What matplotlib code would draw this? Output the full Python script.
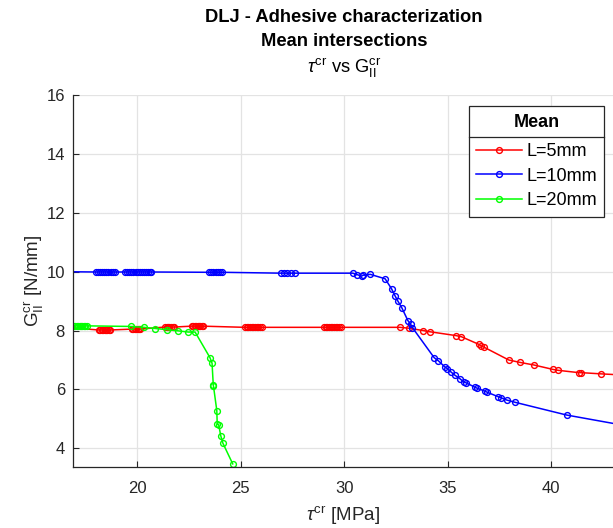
import matplotlib
matplotlib.use("Agg")
import matplotlib.pyplot as plt
from matplotlib.lines import Line2D

plt.rcParams['font.family'] = ['Liberation Sans', 'DejaVu Sans']
plt.rcParams['mathtext.fontset'] = 'custom'
plt.rcParams['mathtext.rm'] = 'Liberation Sans'
plt.rcParams['mathtext.it'] = 'Liberation Sans:italic'
plt.rcParams['mathtext.bf'] = 'Liberation Sans:bold'

# ---- data: tau^cr [MPa] vs G_II^cr [N/mm] for each overlap length ----
tau_5 = [16.70,
         18.13, 18.20, 18.27, 18.34, 18.41, 18.48, 18.55, 18.62, 18.69,
         19.73, 19.80, 19.87, 19.94, 20.01, 20.07, 20.13,
         21.34, 21.41, 21.48, 21.55, 21.62, 21.70, 21.78,
         22.63, 22.70, 22.77, 22.84, 22.91, 22.98, 23.05, 23.10, 23.16,
         25.20, 25.28, 25.36, 25.44, 25.52, 25.60, 25.68, 25.76, 25.84, 25.92, 26.04,
         29.03, 29.11, 29.19, 29.27, 29.35, 29.43, 29.51, 29.59, 29.67, 29.75, 29.87,
         32.69, 33.13, 33.82, 34.14, 35.40, 35.67, 36.52, 36.64, 36.75,
         37.96, 38.49, 39.18, 40.10, 40.34, 41.35, 41.47, 42.40, 44.00]
G_5 = [8.10,
       8.02, 8.02, 8.02, 8.02, 8.02, 8.02, 8.02, 8.02, 8.02,
       8.05, 8.05, 8.05, 8.05, 8.05, 8.05, 8.05,
       8.12, 8.12, 8.12, 8.12, 8.12, 8.12, 8.12,
       8.15, 8.15, 8.15, 8.15, 8.15, 8.15, 8.15, 8.15, 8.15,
       8.11, 8.11, 8.11, 8.11, 8.11, 8.11, 8.11, 8.11, 8.11, 8.11, 8.11,
       8.11, 8.11, 8.11, 8.11, 8.11, 8.11, 8.11, 8.11, 8.11, 8.11, 8.11,
       8.11, 8.08, 8.00, 7.96, 7.83, 7.79, 7.53, 7.47, 7.44,
       7.00, 6.92, 6.83, 6.68, 6.65, 6.57, 6.57, 6.53, 6.47]

tau_10 = [16.50,
          18.00, 18.10, 18.20, 18.30, 18.40, 18.50, 18.60, 18.70, 18.80, 18.90,
          19.41, 19.51, 19.61, 19.71, 19.81, 19.91, 20.01, 20.11, 20.21, 20.31, 20.41, 20.51, 20.60, 20.66,
          23.48, 23.58, 23.68, 23.78, 23.88, 23.98, 24.08,
          26.95, 27.10, 27.25, 27.45, 27.60,
          30.41, 30.63, 30.84, 30.92, 31.26, 31.98, 32.29, 32.46, 32.59, 32.79,
          33.08, 33.21, 33.30, 34.35, 34.56, 34.86, 34.98, 35.17, 35.36, 35.59,
          35.78, 35.88, 36.31, 36.40, 36.81, 36.93, 37.46, 37.57, 37.86, 38.28,
          40.76, 44.00]
G_10 = [10.00,
        9.99, 9.99, 9.99, 9.99, 9.99, 9.99, 9.99, 9.99, 9.99, 9.99,
        9.99, 9.99, 9.99, 9.99, 9.99, 9.99, 9.99, 9.99, 9.99, 9.99, 9.99, 9.99, 9.99, 9.99,
        9.98, 9.98, 9.98, 9.98, 9.98, 9.98, 9.98,
        9.95, 9.95, 9.95, 9.95, 9.95,
        9.95, 9.90, 9.85, 9.88, 9.91, 9.76, 9.42, 9.18, 9.01, 8.77,
        8.34, 8.22, 8.10, 7.08, 6.97, 6.77, 6.71, 6.59, 6.48, 6.37,
        6.25, 6.23, 6.08, 6.05, 5.94, 5.90, 5.75, 5.72, 5.64, 5.56,
        5.13, 4.72]

tau_20 = [16.92, 16.99, 17.06, 17.13, 17.20, 17.27, 17.34, 17.41, 17.48, 17.55,
          19.68, 20.32, 20.87, 21.45, 21.98, 22.46, 22.79,
          23.51, 23.61, 23.67, 23.68, 23.84, 23.86, 23.93, 24.03, 24.13, 24.61]
G_20 = [8.16, 8.16, 8.16, 8.16, 8.16, 8.16, 8.16, 8.16, 8.16, 8.16,
        8.14, 8.11, 8.07, 8.03, 7.99, 7.95, 7.95,
        7.08, 6.89, 6.14, 6.11, 5.28, 4.82, 4.80, 4.43, 4.18, 3.47]

labels = ['L=5mm', 'L=10mm', 'L=20mm']
colors = ['#ff0000', '#0000ff', '#00ff00']

x_ticks = [20, 25, 30, 35, 40]
y_ticks = [4, 6, 8, 10, 12, 14, 16]

# ---- figure ----
W, H = 613, 528
fig = plt.figure(figsize=(W / 100, H / 100), dpi=100)
ax = fig.add_axes([73.3 / W, 1 - 466.7 / H, (W - 73.3) / W, (466.7 - 95.1) / H])

for tx, gy, lab, col in zip([tau_5, tau_10, tau_20], [G_5, G_10, G_20], labels, colors):
    ax.plot(tx, gy, '-o', color=col, lw=1.1, ms=4.2, mew=1.0,
            mfc='none', mec=col, label=lab)

ax.set_xlim(16.9, 43.0)
ax.set_ylim(3.375, 16.0)
ax.set_xticks(x_ticks)
ax.set_yticks(y_ticks)

axis_col = '#262626'
for side in ['top', 'right']:
    ax.spines[side].set_visible(False)
for side in ['left', 'bottom']:
    ax.spines[side].set_color(axis_col)
    ax.spines[side].set_linewidth(0.9)
ax.tick_params(direction='in', length=4, width=0.8, color=axis_col,
               labelcolor=axis_col, labelsize=12)
ax.tick_params(axis='x', pad=10)
ax.tick_params(axis='y', pad=6)
ax.grid(True, color='#e3e3e3', linewidth=0.9)
ax.set_axisbelow(True)

ax.set_xlabel(r'$\tau^{\mathrm{cr}}$ [MPa]', fontsize=13.5, color=axis_col, labelpad=6)
ax.set_ylabel(r'G$_{\mathrm{II}}^{\mathrm{cr}}$ [N/mm]', fontsize=13.5, color=axis_col, labelpad=0)

fig.text(0.561, 1 - 18 / H, 'DLJ - Adhesive characterization', ha='center', va='center',
         fontsize=13.2, fontweight='bold')
fig.text(0.561, 1 - 42 / H, 'Mean intersections', ha='center', va='center',
         fontsize=13.2, fontweight='bold')
fig.text(0.561, 1 - 68 / H, r'$\tau^{\mathrm{cr}}$ vs G$_{\mathrm{II}}^{\mathrm{cr}}$', ha='center',
         va='center', fontsize=13.2)

leg = ax.legend(loc='upper right', bbox_to_anchor=((604.3 - 73.3) / (W - 73.3),
                                                   (466.7 - 106) / (466.7 - 95.1)),
                title='Mean', fontsize=13, title_fontproperties={'weight': 'bold', 'size': 13},
                fancybox=False, framealpha=1, edgecolor='#262626', handlelength=2.5,
                handletextpad=0.25, borderpad=0.42, labelspacing=0.42, borderaxespad=0)
leg.get_frame().set_linewidth(0.9)
leg._legend_box.sep = 9

# separator line between legend title and entries
fig.canvas.draw()
r = fig.canvas.get_renderer()
fb = leg.get_frame().get_window_extent(r)
tb = leg.get_title().get_window_extent(r)
first = leg.get_texts()[0].get_window_extent(r)
ysep = 0.5 * (tb.y0 + first.y1)
fig.add_artist(Line2D([fb.x0, fb.x1], [ysep, ysep], transform=None,
                      color='#262626', lw=0.9, zorder=10))

fig.savefig('out.png', dpi=100)
